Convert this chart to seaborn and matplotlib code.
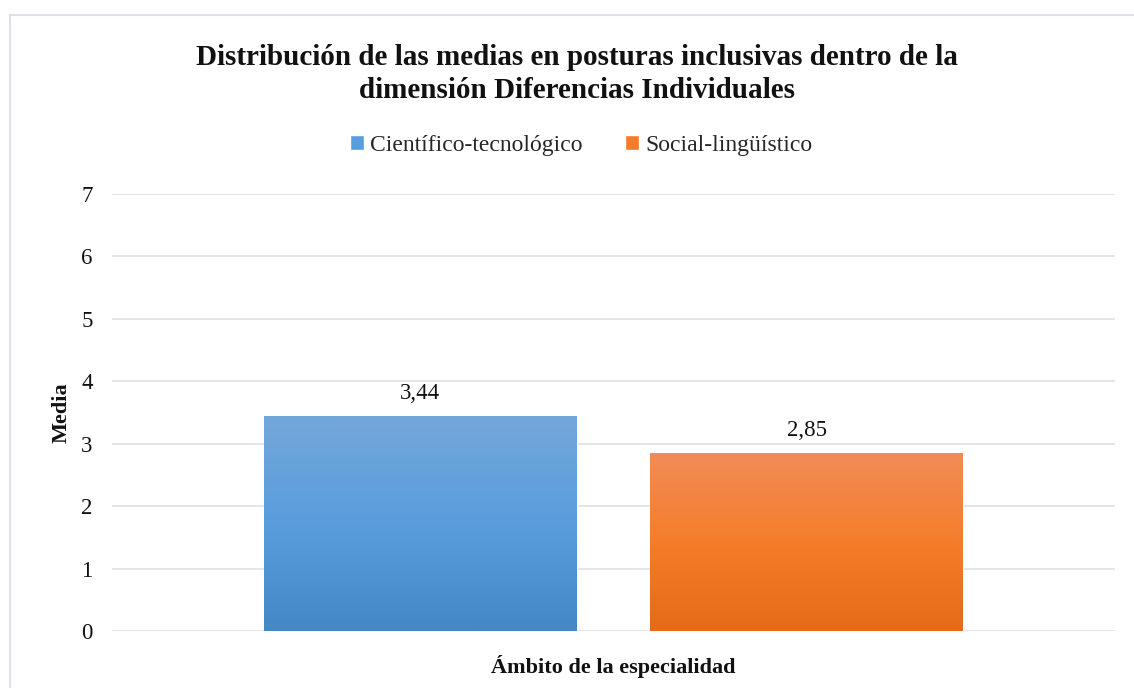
import matplotlib
matplotlib.use("Agg")
import matplotlib.pyplot as plt
import matplotlib.patches as mpatches
import seaborn as sns
import pandas as pd
import numpy as np

# Chart data
groups = ["Científico-tecnológico", "Social-lingüístico"]
medias = [3.44, 2.85]
axis_title = "Ámbito de la especialidad"
title = ("Distribución de las medias en posturas inclusivas dentro de la\n"
         "dimensión Diferencias Individuales")

# Gradient stops (top, middle, bottom) per series
gradients = {
    "Científico-tecnológico": ["#73A7DA", "#5A9DDD", "#4588C8"],
    "Social-lingüístico": ["#F18C58", "#F57D2A", "#E46B17"],
}
solid = {g: c[1] for g, c in gradients.items()}

df = pd.DataFrame({"ambito": [axis_title] * len(groups), "grupo": groups, "media": medias})

sns.set_theme(style="white")
plt.rcParams["font.family"] = ["Liberation Serif", "DejaVu Serif"]

W, H = 1134, 688
fig = plt.figure(figsize=(W / 100, H / 100), dpi=100)
ax = fig.add_axes([112 / W, 1 - 631 / H, (1115 - 112) / W, (631 - 194) / H])

sns.barplot(data=df, x="ambito", y="media", hue="grupo", palette=solid,
            saturation=1, width=0.77, gap=0.19, ax=ax, legend=True)

# Overlay a vertical gradient on each bar, clipped to the bar shape
bars = [p for p in ax.patches if p.get_height() > 0]
for bar, grp in zip(bars, groups):
    stops = np.array([matplotlib.colors.to_rgb(c) for c in gradients[grp]])
    t = np.linspace(0, 1, 200)
    img = np.stack([np.interp(t, [0, 0.5, 1], stops[:, k]) for k in range(3)], axis=-1)
    img = img[:, None, :]
    x0 = bar.get_x()
    im = ax.imshow(img, extent=[x0, x0 + bar.get_width(), 0, bar.get_height()],
                   aspect="auto", origin="upper", zorder=bar.get_zorder() + 0.1)
    im.set_clip_path(bar)

for cont in ax.containers:
    ax.bar_label(cont, labels=[f"{v:.2f}".replace(".", ",") for v in cont.datavalues],
                 padding=9, fontsize=16.5, color="#111111")

ax.set_xlim(-0.5, 0.5)
ax.set_ylim(0, 7)
ax.set_yticks(range(0, 8))
ax.set_xticks([])
ax.tick_params(axis="y", length=0, pad=14, labelsize=16.5, labelcolor="#111111")
ax.yaxis.grid(True, color="#DFE3EA", linewidth=1.3)
ax.set_axisbelow(True)
for s in ax.spines.values():
    s.set_visible(False)

ax.set_ylabel("Media", fontsize=16, fontweight="bold", labelpad=7, color="#111111")
ax.set_xlabel(axis_title, fontsize=16, fontweight="bold", labelpad=17, color="#111111")

sns.move_legend(ax, "center", bbox_to_anchor=(581 / W, 1 - 145 / H),
                bbox_transform=fig.transFigure, ncol=2, frameon=False, title=None,
                fontsize=17, handlelength=0.6, handleheight=0.6, handletextpad=0.25,
                columnspacing=1.8)

fig.text(577 / W, 1 - 74 / H, title, ha="center", va="center", fontsize=21,
         fontweight="bold", linespacing=1.3, color="#111111")

# Light chart-area border (the picture is cropped at right and bottom)
border = mpatches.Rectangle((10 / W, -0.05), 1.1, 1 - 15 / H + 0.05,
                            transform=fig.transFigure, fill=False,
                            edgecolor="#DDE2EA", linewidth=1.5)
fig.patches.append(border)

fig.savefig("out.png", dpi=100, facecolor="white")
